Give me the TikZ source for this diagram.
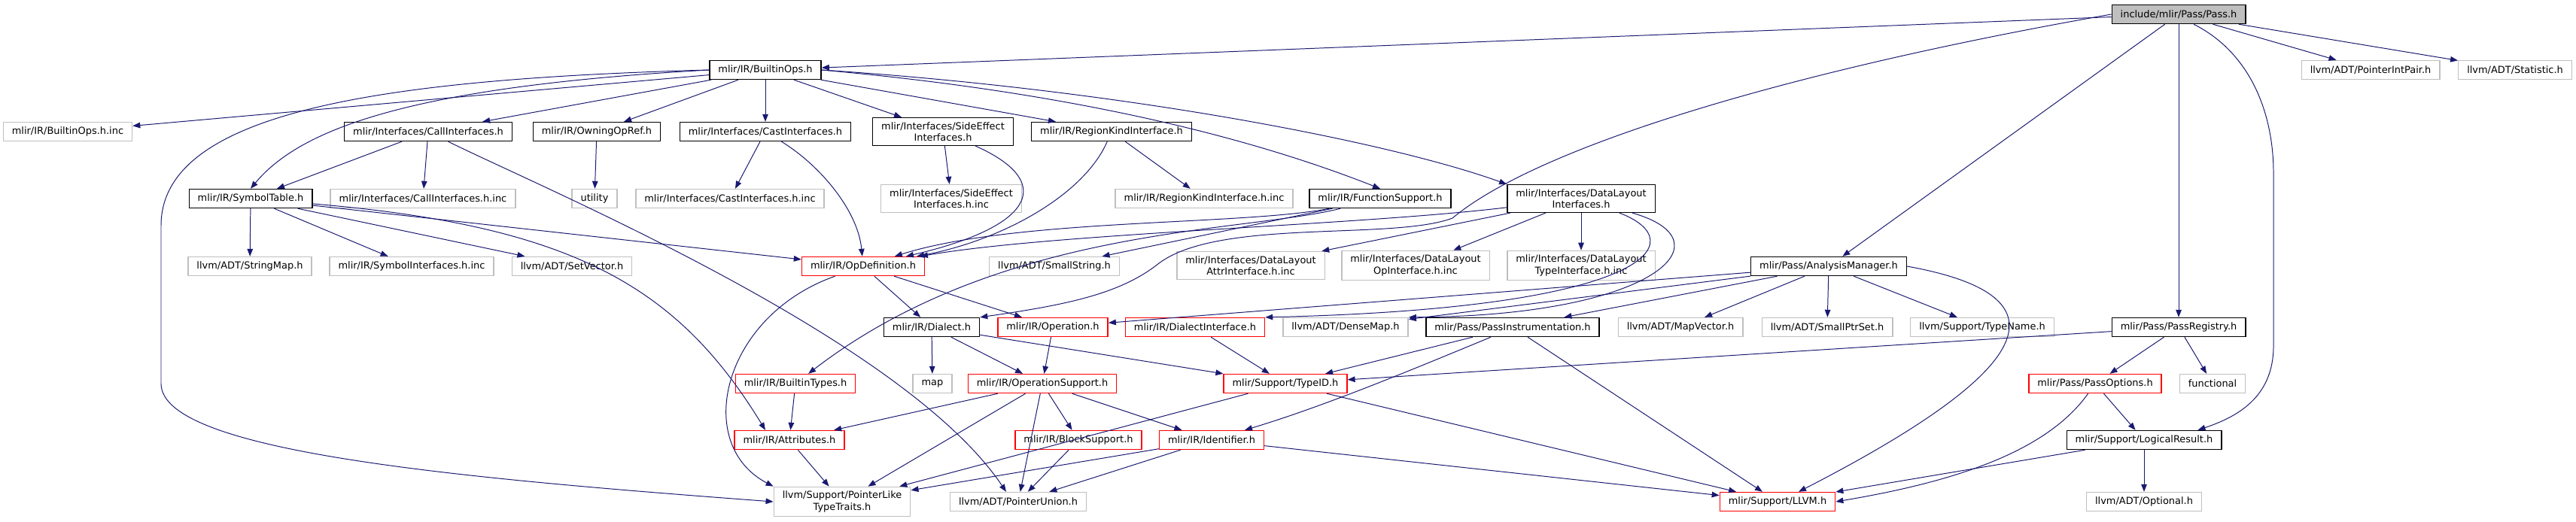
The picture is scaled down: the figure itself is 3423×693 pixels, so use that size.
\documentclass[tikz,border=0pt]{standalone}
\usepackage{fontspec}
\setmainfont{DejaVu Sans}
\usetikzlibrary{arrows.meta}
\definecolor{edgeblue}{HTML}{191970}
\definecolor{boxgray}{HTML}{BFBFBF}

\begin{document}
\begin{tikzpicture}[
  x=0.025cm, y=-0.025cm,
  file/.style={draw, line width=1pt, inner xsep=0.2875cm, inner ysep=0.14cm, minimum height=0.625cm, align=center, font=\fontsize{9.2}{11.1}\selectfont},
  doc/.style={file, draw=black},
  ext/.style={file, draw=boxgray},
  trunc/.style={file, draw=red},
  root/.style={file, draw=black, fill=boxgray},
  dep/.style={draw=edgeblue, line width=0.7pt, -{Triangle[length=0.25cm, width=0.19cm]}}
]
  \useasboundingbox (0,0) rectangle (3423,693);

  \node[root] (pass) at (2895,19) {include/mlir/Pass/Pass.h};

  \node[doc] (bops) at (1017,93) {mlir/IR/BuiltinOps.h};
  \node[ext] (pip) at (3150,93) {llvm/ADT/PointerIntPair.h};
  \node[ext] (stat) at (3342,93) {llvm/ADT/Statistic.h};

  \node[ext] (bopsinc) at (90,175) {mlir/IR/BuiltinOps.h.inc};
  \node[doc] (callif) at (569,175) {mlir/Interfaces/CallInterfaces.h};
  \node[doc] (owning) at (793,175) {mlir/IR/OwningOpRef.h};
  \node[doc] (castif) at (1017,175) {mlir/Interfaces/CastInterfaces.h};
  \node[doc] (sideeff) at (1253,175) {mlir/Interfaces/SideEffect\\Interfaces.h};
  \node[doc] (regkind) at (1477,175) {mlir/IR/RegionKindInterface.h};

  \node[doc] (symtab) at (333,264) {mlir/IR/SymbolTable.h};
  \node[ext] (callinc) at (562,264) {mlir/Interfaces/CallInterfaces.h.inc};
  \node[ext] (utility) at (790,264) {utility};
  \node[ext] (castinc) at (970,264) {mlir/Interfaces/CastInterfaces.h.inc};
  \node[ext] (sideinc) at (1264,264) {mlir/Interfaces/SideEffect\\Interfaces.h.inc};
  \node[ext] (reginc) at (1600,264) {mlir/IR/RegionKindInterface.h.inc};
  \node[doc] (funcsup) at (1834,264) {mlir/IR/FunctionSupport.h};
  \node[doc] (dlif) at (2101,264) {mlir/Interfaces/DataLayout\\Interfaces.h};

  \node[ext] (strmap) at (332,354) {llvm/ADT/StringMap.h};
  \node[ext] (syminc) at (547,354) {mlir/IR/SymbolInterfaces.h.inc};
  \node[ext] (setvec) at (760,354) {llvm/ADT/SetVector.h};
  \node[trunc] (opdef) at (1147,354) {mlir/IR/OpDefinition.h};
  \node[ext] (smallstr) at (1401,354) {llvm/ADT/SmallString.h};
  \node[ext] (dlattr) at (1662,353) {mlir/Interfaces/DataLayout\\AttrInterface.h.inc};
  \node[ext] (dlop) at (1881,353) {mlir/Interfaces/DataLayout\\OpInterface.h.inc};
  \node[ext] (dltype) at (2101,353) {mlir/Interfaces/DataLayout\\TypeInterface.h.inc};
  \node[doc] (anmgr) at (2430,354) {mlir/Pass/AnalysisManager.h};

  \node[doc] (dialect) at (1238,435) {mlir/IR/Dialect.h};
  \node[trunc] (operation) at (1399,435) {mlir/IR/Operation.h};
  \node[trunc] (dialif) at (1588,435) {mlir/IR/DialectInterface.h};
  \node[ext] (densemap) at (1788,435) {llvm/ADT/DenseMap.h};
  \node[doc] (passinst) at (2010,435) {mlir/Pass/PassInstrumentation.h};
  \node[ext] (mapvec) at (2233,435) {llvm/ADT/MapVector.h};
  \node[ext] (smallptr) at (2428,435) {llvm/ADT/SmallPtrSet.h};
  \node[ext] (typename) at (2634,435) {llvm/Support/TypeName.h};
  \node[doc] (passreg) at (2895,435) {mlir/Pass/PassRegistry.h};

  \node[trunc] (btypes) at (1057,510) {mlir/IR/BuiltinTypes.h};
  \node[ext] (map) at (1239,510) {map};
  \node[trunc] (opsupp) at (1385,510) {mlir/IR/OperationSupport.h};
  \node[trunc] (typeid) at (1708,510) {mlir/Support/TypeID.h};
  \node[trunc] (passopt) at (2784,510) {mlir/Pass/PassOptions.h};
  \node[ext] (functional) at (2940,510) {functional};

  \node[trunc] (attrs) at (1049,585) {mlir/IR/Attributes.h};
  \node[trunc] (blocksupp) at (1433,585) {mlir/IR/BlockSupport.h};
  \node[trunc] (ident) at (1610,585) {mlir/IR/Identifier.h};
  \node[doc] (logres) at (2849,585) {mlir/Support/LogicalResult.h};

  \node[ext] (ptrlike) at (1119,667) {llvm/Support/PointerLike\\TypeTraits.h};
  \node[ext] (ptrunion) at (1353,667) {llvm/ADT/PointerUnion.h};
  \node[trunc] (llvmh) at (2362,667) {mlir/Support/LLVM.h};
  \node[ext] (optional) at (2849,667) {llvm/ADT/Optional.h};

  \draw[dep] (pass) -- (bops);
  \draw[dep] (pass.west) .. controls (2400,90) and (2050,190) .. (1930,290) .. controls (1850,320) and (1620,290) .. (1540,350) .. controls (1490,390) and (1420,405) .. (dialect.north east);
  \draw[dep] (pass) -- (anmgr);
  \draw[dep] (pass) -- (passreg);
  \draw[dep] ([xshift=0.5cm]pass.south) .. controls (2990,70) and (3021,150) .. (3021,230) -- (3021,460) .. controls (3021,530) and (2970,555) .. ([xshift=-0.8cm]logres.north east);
  \draw[dep] (pass) -- (pip);
  \draw[dep] (pass) -- (stat);

  \draw[dep] (bops) -- (bopsinc);
  \draw[dep] (bops.west) .. controls (500,105) and (214,150) .. (214,300) -- (214,510) .. controls (214,600) and (600,635) .. (ptrlike.west);
  \draw[dep] (bops.west) .. controls (550,115) and (400,170) .. (symtab.north);
  \draw[dep] (bops) -- (callif);
  \draw[dep] (bops) -- (owning);
  \draw[dep] (bops) -- (castif);
  \draw[dep] (bops) -- (sideeff);
  \draw[dep] (bops) -- (regkind);
  \draw[dep] (bops.east) .. controls (1450,125) and (1680,190) .. (funcsup.north);
  \draw[dep] (bops.east) .. controls (1500,120) and (1850,190) .. (dlif.north west);

  \draw[dep] (callif) -- (symtab);
  \draw[dep] (callif) -- (callinc);
  \draw[dep] (callif) .. controls (720,250) and (1200,450) .. ([xshift=-0.4cm]ptrunion.north);
  \draw[dep] (owning) -- (utility);
  \draw[dep] (castif) -- (castinc);
  \draw[dep] (castif) .. controls (1090,220) and (1140,280) .. (opdef);
  \draw[dep] (sideeff) -- (sideinc);
  \draw[dep] (sideeff) .. controls (1400,240) and (1380,300) .. (opdef);
  \draw[dep] (regkind) -- (reginc);
  \draw[dep] (regkind) .. controls (1440,260) and (1330,320) .. (opdef);

  \draw[dep] (symtab) -- (strmap);
  \draw[dep] (symtab) -- (syminc);
  \draw[dep] (symtab) -- (setvec);
  \draw[dep] (symtab) -- (opdef);
  \draw[dep] (symtab) .. controls (760,300) and (900,380) .. ([xshift=-0.8cm]attrs.north);
  \draw[dep] (funcsup) .. controls (1650,300) and (1350,290) .. (opdef);
  \draw[dep] (funcsup) -- (smallstr);
  \draw[dep] (funcsup) .. controls (1650,310) and (1330,300) .. (btypes);
  \draw[dep] (dlif) .. controls (1800,300) and (1400,310) .. (opdef);
  \draw[dep] (dlif) -- (dlattr);
  \draw[dep] (dlif) -- (dlop);
  \draw[dep] (dlif) -- (dltype);
  \draw[dep] (dlif) .. controls (2250,320) and (2200,410) .. (dialif.north east);
  \draw[dep] (dlif) .. controls (2300,320) and (2200,420) .. (densemap.north east);

  \draw[dep] (opdef) -- (dialect);
  \draw[dep] (opdef) -- (operation);
  \draw[dep] (opdef) .. controls (960,420) and (920,590) .. (ptrlike.north west);
  \draw[dep] (anmgr) -- (operation);
  \draw[dep] (anmgr) -- (densemap);
  \draw[dep] (anmgr) -- (passinst);
  \draw[dep] (anmgr) -- (mapvec);
  \draw[dep] (anmgr) -- (smallptr);
  \draw[dep] (anmgr) -- (typename);
  \draw[dep] (anmgr.east) .. controls (2790,400) and (2650,520) .. ([xshift=0.7cm]llvmh.north);

  \draw[dep] (dialect) -- (map);
  \draw[dep] (dialect) -- (opsupp);
  \draw[dep] (dialect) -- (typeid);
  \draw[dep] (operation) -- (opsupp);
  \draw[dep] (dialif) -- (typeid);
  \draw[dep] (passinst) -- (typeid);
  \draw[dep] ([xshift=-0.725cm]passinst.south) .. controls (1880,490) and (1760,540) .. ([xshift=1.1cm]ident.north);
  \draw[dep] (passinst) -- (llvmh);
  \draw[dep] (passreg) -- (typeid);
  \draw[dep] (passreg) -- (passopt);
  \draw[dep] (passreg) -- (functional);

  \draw[dep] (btypes) -- (attrs);
  \draw[dep] (opsupp) -- (attrs);
  \draw[dep] (opsupp) -- (ptrlike);
  \draw[dep] (opsupp) -- (ptrunion);
  \draw[dep] (opsupp) -- (blocksupp);
  \draw[dep] (opsupp) -- (ident);
  \draw[dep] (typeid) -- (ptrlike);
  \draw[dep] (typeid) -- (llvmh);
  \draw[dep] (passopt) .. controls (2720,600) and (2600,640) .. (llvmh.east);
  \draw[dep] (passopt) -- (logres);

  \draw[dep] (attrs) -- (ptrlike);
  \draw[dep] (blocksupp) -- (ptrunion);
  \draw[dep] (ident) -- (ptrlike);
  \draw[dep] (ident) -- (ptrunion);
  \draw[dep] (ident) -- (llvmh);
  \draw[dep] (logres) -- (llvmh);
  \draw[dep] (logres) -- (optional);
\end{tikzpicture}
\end{document}
